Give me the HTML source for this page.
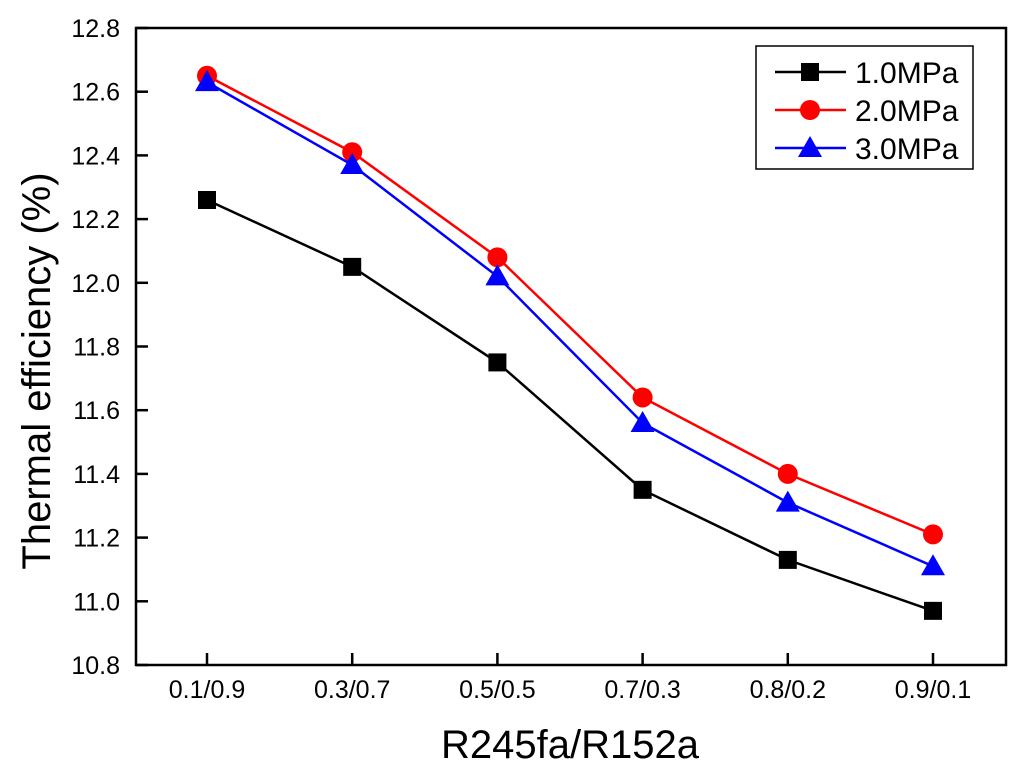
<!DOCTYPE html>
<html><head><meta charset="utf-8"><style>
html,body{margin:0;padding:0;background:#fff;}
svg{display:block;font-family:"Liberation Sans",Arial,sans-serif;}
</style></head><body>
<svg id="chart" width="1024" height="776"></svg>
<script>
const categories=["0.1/0.9","0.3/0.7","0.5/0.5","0.7/0.3","0.8/0.2","0.9/0.1"];
const s1=[12.26,12.05,11.75,11.35,11.13,10.97];
const s2=[12.65,12.41,12.08,11.64,11.40,11.21];
const s3=[12.63,12.37,12.02,11.56,11.31,11.11];
const yTicks=[10.8,11.0,11.2,11.4,11.6,11.8,12.0,12.2,12.4,12.6,12.8];
const seriesNames=["1.0MPa","2.0MPa","3.0MPa"];
const NS="http://www.w3.org/2000/svg";
const svg=document.getElementById('chart');
const L=136,R=1006,T=28,B=665;
const yMin=10.8,yMax=12.8;
const y=v=>B-(v-yMin)/(yMax-yMin)*(B-T);
const x=i=>207+i*145.2;
function mk(tag,attrs,parent){const e=document.createElementNS(NS,tag);for(const k in attrs)e.setAttribute(k,attrs[k]);(parent||svg).appendChild(e);return e;}
const frame=mk('rect',{x:L,y:T,width:R-L,height:B-T,fill:'none',stroke:'#000','stroke-width':2.5});


yTicks.forEach(v=>{
 const t=mk('line',{x1:L,x2:L+12,y1:y(v),y2:y(v),stroke:'#000','stroke-width':2.5});
 
 
 const tx=mk('text',{x:L-16,y:y(v)+9,'text-anchor':'end',style:'font-size:25px'});
 tx.textContent=v.toFixed(1);
 
 
});
categories.forEach((c,i)=>{
 const t=mk('line',{x1:x(i),x2:x(i),y1:B,y2:B-12,stroke:'#000','stroke-width':2.5});
 
 
 const tx=mk('text',{x:x(i),y:698,'text-anchor':'middle',style:'font-size:25px'});
 tx.textContent=c;
 
 
});
const xt=mk('text',{x:570,y:758,'text-anchor':'middle',style:'font-size:40px'});
xt.textContent="R245fa/R152a";


const yt=mk('text',{x:0,y:0,'text-anchor':'middle',style:'font-size:40px',transform:'translate(50,371) rotate(-90)'});
yt.textContent="Thermal efficiency (%)";


function marker(type,cx,cy,color,g){
 if(type==='sq')return mk('rect',{x:cx-9,y:cy-9,width:18,height:18,fill:color},g);
 if(type==='ci')return mk('circle',{cx:cx,cy:cy,r:10,fill:color},g);
 return mk('polygon',{points:`${cx},${cy-12} ${cx-12},${cy+9} ${cx+12},${cy+9}`,fill:color},g);
}
const series=[[s1,'#000','sq'],[s2,'#f00','ci'],[s3,'#00f','tr']];
series.forEach(([d,col,m],si)=>{
 const g=mk('g',{});
 
 
 const pl=mk('polyline',{points:d.map((v,i)=>x(i)+','+y(v)).join(' '),fill:'none',stroke:col,'stroke-width':2.5},g);
 
 
 d.forEach((v,i)=>{const mm=marker(m,x(i),y(v),col,g);
  
  });
});
const lg=mk('g',{});


mk('rect',{x:756,y:46,width:217,height:123,fill:'#fff',stroke:'#000','stroke-width':1.5},lg);
series.forEach(([d,col,m],si)=>{
 const ly=72+si*38;
 const e=mk('g',{},lg);
 
 
 mk('line',{x1:775,x2:846,y1:ly,y2:ly,stroke:col,'stroke-width':2.5},e);
 marker(m,810,ly,col,e);
 const t=mk('text',{x:855,y:ly+11,style:'font-size:30px'},e);
 t.textContent=seriesNames[si];
});
</script>
</body></html>
